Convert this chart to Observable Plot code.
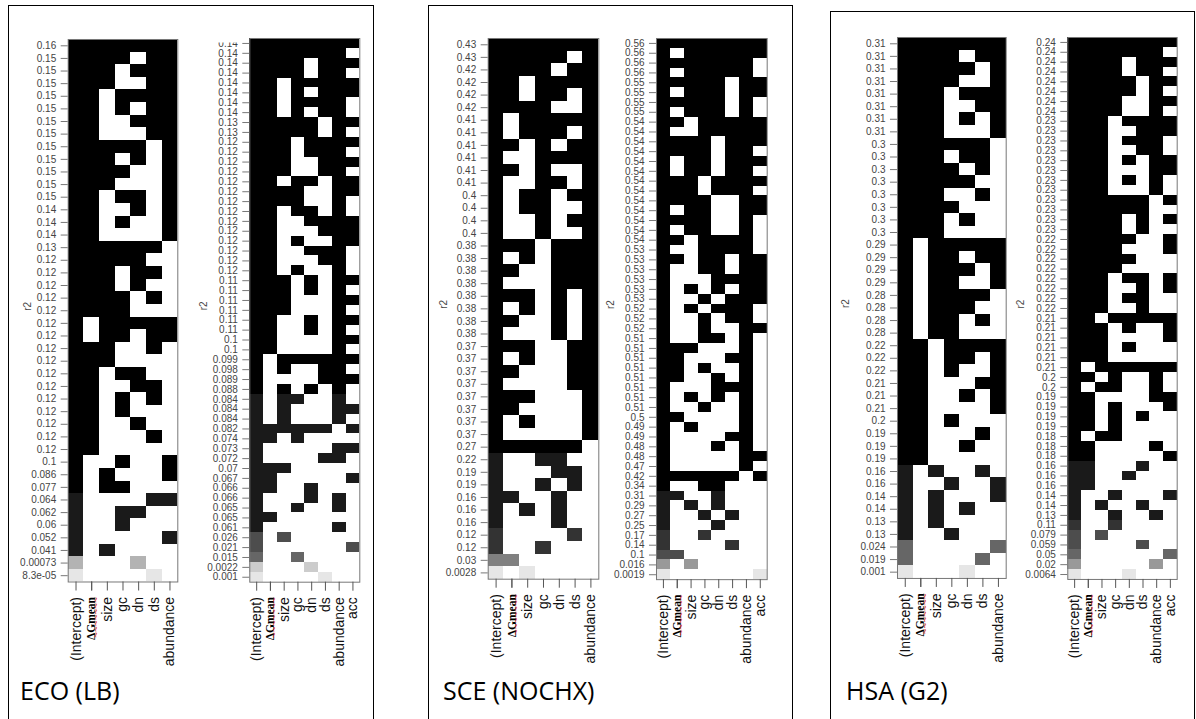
<!DOCTYPE html>
<html><head><meta charset="utf-8">
<script src="https://cdn.jsdelivr.net/npm/d3@7"></script>
<script src="https://cdn.jsdelivr.net/npm/@observablehq/plot@0.6"></script>
<style>
body{margin:0;background:#fff;}
#root{position:relative;width:1196px;height:719px;overflow:hidden;background:#fff;}
.panel{position:absolute;border:1.5px solid #000;border-bottom:none;box-sizing:border-box;}
.title{position:absolute;font-family:"Open Sans",sans-serif;font-size:25px;color:#000;line-height:1;}
.sub{position:absolute;}
</style></head><body><div id="root"></div>
<script>
// ---------- variables (column labels) ----------
const varsLeft = ["(Intercept)","ΔGmean","size","gc","dn","ds","abundance"];
const varsRight = ["(Intercept)","ΔGmean","size","gc","dn","ds","abundance","acc"];

// ---------- ECO (LB), left ----------
const ecoLeftLabels = ["0.16","0.15","0.15","0.15","0.15","0.15","0.15","0.15","0.15","0.15","0.15","0.15","0.15","0.14","0.14","0.14","0.13",
 "0.12","0.12","0.12","0.12","0.12","0.12","0.12","0.12","0.12","0.12","0.12","0.12","0.12","0.12","0.12","0.12",
 "0.1","0.086","0.077","0.064","0.062","0.06","0.052","0.041","0.00073","8.3e-05"];
const ecoLeftRows = ["1111111","1111011","1110111","1110011","1101111","1101011","1100111","1100011","1111101","1110101","1111001","1110001","1101101","1100101","1101001","1100001","1111110",
 "1111100","1110110","1110100","1111010","1111000","1011111","1011011","1110010","1110000","1101100","1100110","1101010","1101000","1100100","1100010","1100000",
 "1001001","1010001","1011000","1000011","1001100","1001000","1000001","1010000","1000100","1000010"];

// ---------- ECO (LB), right ----------
const ecoRightLabels = ["0.14","0.14","0.14","0.14","0.14","0.14","0.14","0.14","0.13","0.13",
 "0.12","0.12","0.12","0.12","0.12","0.12","0.12","0.12","0.12","0.12","0.12","0.12","0.12","0.12",
 "0.11","0.11","0.11","0.11","0.11","0.11","0.1","0.1","0.099","0.098","0.089","0.088","0.084","0.084","0.084","0.082",
 "0.074","0.073","0.072","0.07","0.067","0.066","0.066","0.065","0.065","0.061","0.026","0.021","0.015","0.0022","0.001"];
const ecoRightRows = ["11111111","11111110","11110111","11110110","11011111","11010111","11011110","11010110","11111011","11111010",
 "11101111","11101110","11100111","11100110","11011011","11110011","11110010","11011010","11001111","11000111","11010011","11001110","11000110","11010010",
 "11101011","11101010","11100011","11100010","11001011","11001010","11000011","11000010","10111111","10100110","10000111","10101010","10110010","10100011","10100010","11111101",
 "11010000","10000011","10000110","11100000","11000001","11001000","10001010","10010010","11000000","10000010","10100000","10000001","10010000","10001000","10000100"];

// ---------- SCE (NOCHX), left ----------
const sceLeftLabels = ["0.43","0.43","0.42","0.42","0.42","0.42","0.41","0.41","0.41","0.41","0.41","0.41","0.4","0.4","0.4","0.4",
 "0.38","0.38","0.38","0.38","0.38","0.38","0.38","0.38","0.37","0.37","0.37","0.37","0.37","0.37","0.37","0.37",
 "0.27","0.22","0.19","0.19","0.16","0.16","0.16","0.12","0.12","0.03","0.0028"];
const sceLeftRows = ["1111111","1111101","1111011","1101111","1101101","1111001","1011111","1011101","1101011","1001111","1101001","1001101","1011011","1011001","1001011","1001001",
 "1110111","1010111","1100111","1000111","1110101","1010101","1100101","1000101","1110011","1010011","1100011","1000011","1110001","1100001","1010001","1000001",
 "1111110","1001100","1000110","1001010","1100100","1010100","1000100","1000010","1001000","1100000","1010000"];

// ---------- SCE (NOCHX), right ----------
const sceRightLabels = ["0.56","0.56","0.56","0.56","0.55","0.55","0.55","0.55",
 "0.54","0.54","0.54","0.54","0.54","0.54","0.54","0.54","0.54","0.54","0.54","0.54","0.54",
 "0.53","0.53","0.53","0.53","0.53","0.53","0.52","0.52","0.52",
 "0.51","0.51","0.51","0.51","0.51","0.51","0.51","0.51","0.5","0.49","0.49","0.48","0.48","0.47",
 "0.42","0.34","0.31","0.29","0.27","0.25","0.17","0.14","0.1","0.016","0.0019"];
const sceRightRows = ["11111111","10111111","11111110","10111110","11111011","10111011","11111010","10111010",
 "11011111","10011111","11110111","11110110","10110111","10110110","11101111","11101110","11110011","10110011","11110010","10110010","11011110",
 "10011110","11011011","10011011","10001111","10101011","10010111","10101110","10010110","10010011",
 "10011010","11100010","11000110","11010010","11001010","10001110","10101010","10010010","11000010","10100010","10000110","10001010","10000011","10000010",
 "11111101","10011000","11001000","10101000","10010100","10001000","10010000","10000100","11000000","10100000","10000001"];

// ---------- HSA (G2), left ----------
const hsaLeftLabels = ["0.31","0.31","0.31","0.31","0.31","0.31","0.31","0.31","0.3","0.3","0.3","0.3","0.3","0.3","0.3","0.3",
 "0.29","0.29","0.29","0.29","0.28","0.28","0.28","0.28","0.22","0.22","0.22","0.21","0.21","0.21","0.2",
 "0.19","0.19","0.19","0.16","0.16","0.14","0.14","0.13","0.13","0.024","0.019","0.001"];
const hsaLeftRows = ["1111111","1111011","1111101","1111001","1110111","1110011","1110101","1110001","1111110","1110110","1111010","1111100","1110010","1111000","1110100","1110000",
 "1011111","1011011","1011101","1011001","1011110","1011100","1011010","1011000","1101111","1101101","1101001","1100011","1100101","1100001","1101000",
 "1100010","1100100","1100000","1010010","1001001","1010001","1010100","1010000","1001000","1000001","1000010","1000100"];

// ---------- HSA (G2), right ----------
const hsaRightLabels = ["0.24","0.24","0.24","0.24","0.24","0.24","0.24","0.24",
 "0.23","0.23","0.23","0.23","0.23","0.23","0.23","0.23","0.23","0.23","0.23","0.23",
 "0.22","0.22","0.22","0.22","0.22","0.22","0.22","0.22",
 "0.21","0.21","0.21","0.21","0.21","0.21","0.2","0.2","0.19","0.19","0.19","0.19","0.18","0.18","0.18",
 "0.16","0.16","0.16","0.14","0.14","0.13","0.11","0.079","0.059","0.05","0.02","0.0064"];
const hsaRightRows = ["11111111","11111110","11110111","11110110","11111011","11111010","11110011","11110010",
 "11101111","11100111","11101110","11100110","11101011","11100011","11101010","11100010","11111101","11111100","11110101","11110100",
 "11111001","11110001","11111000","11110000","11101101","11100101","11101100","11100100",
 "11011111","11101001","11100001","11101000","11100000","10111111","11010010","10110010","11000011","11010001","11010100","11010000","10110000","11000010","11000001",
 "11000100","11001000","11000000","10010001","10100100","10010010","10010000","10100000","10000100","10000001","10000010","10001000"];

// ---------- drawing ----------
const root = document.getElementById("root");
function panel(l, t, r) {
  const d = document.createElement("div"); d.className = "panel";
  d.style.left = l + "px"; d.style.top = t + "px"; d.style.width = (r - l) + "px"; d.style.height = (730 - t) + "px";
  root.appendChild(d);
}
function title(txt, x, y) {
  const d = document.createElement("div"); d.className = "title"; d.textContent = txt;
  d.style.left = x + "px"; d.style.top = y + "px"; root.appendChild(d);
}
const grayLevels = d3.range(9, -1, -1).map(k => { const v = Math.round(k * 25.5); return d3.rgb(v, v, v).formatHex(); });
const TS = 9, TP = 6;

function draw(cfg) {
  const {labels, rows, vars, x0, x1, y0, y1, svgLeft, ylabOff, clipAt} = cfg;
  const n = labels.length;
  const vals = labels.map(Number);
  const lmax = Math.log(d3.max(vals)), lmin = Math.log(d3.min(vals));
  const thresholds = d3.range(9, 0, -1).map(j => Math.exp(lmax - j * (lmax - lmin) / 10));
  const cells = [];
  rows.forEach((s, r) => s.split("").forEach((ch, c) => { if (ch === "1") cells.push({row: r, v: vars[c], r2: vals[r]}); }));
  const mt = 1, mb = 110, ml = x0 - svgLeft, mr = 2;
  const W = ml + (x1 - x0) + mr, H = mt + (y1 - y0) + mb;
  const svg = Plot.plot({
    width: W, height: H, marginLeft: ml, marginRight: mr, marginTop: mt, marginBottom: mb,
    x: {domain: vars, padding: 0, round: false, label: null},
    y: {domain: d3.range(n), padding: 0, round: false, label: null},
    color: {type: "threshold", domain: thresholds, range: grayLevels},
    style: {fontFamily: "'Liberation Sans', Arial, sans-serif", fontSize: "10px", color: "#3a3a3a", background: "transparent", overflow: "visible"},
    marks: [
      Plot.cell(cells, {x: "v", y: "row", fill: "r2", inset: 0, shapeRendering: "crispEdges"}),
      Plot.frame({stroke: "#777", strokeWidth: 1}),
      Plot.axisY({tickSize: 7, tickPadding: 5, tickFormat: i => labels[i], stroke: "#777", fill: "#444", label: null, fontSize: 10}),
      Plot.text(["r2"], {frameAnchor: "left", dx: -ylabOff, rotate: -90, fill: "#444", fontSize: 10}),
      Plot.axisX({tickSize: TS, tickPadding: TP, tickRotate: -90, tickFormat: d => d === "ΔGmean" ? "" : d, stroke: "#555", fill: "#111", label: null, fontSize: 14}),
      Plot.axisX({ticks: ["ΔGmean"], tickSize: TS, tickPadding: TP, tickRotate: -90, stroke: "#555", fill: "#000", label: null, fontSize: 11.5, fontWeight: "bold", fontFamily: "'Liberation Serif', serif"}),
      Plot.text(["ΔGmean"], {x: d => d, frameAnchor: "bottom", dy: TS + TP, dx: 8, rotate: -90, textAnchor: "end", text: () => "~~~~~~~", fill: "#e0301e", fontSize: 10})
    ]
  });
  const wrap = document.createElement("div"); wrap.className = "sub";
  wrap.style.left = svgLeft + "px"; wrap.style.top = (y0 - mt) + "px";
  wrap.appendChild(svg); root.appendChild(wrap);
  if (clipAt != null) {
    const s = d3.select(svg);
    const id = "clip" + Math.round(x0);
    s.append("defs").append("clipPath").attr("id", id).append("rect")
      .attr("x", clipAt - svgLeft).attr("y", 0).attr("width", W).attr("height", H);
    s.select('g[aria-label="y-axis tick label"]').attr("clip-path", `url(#${id})`);
  }
}

panel(8, 5, 374); panel(428, 5, 793); panel(830, 11, 1195);
draw({labels: ecoLeftLabels, rows: ecoLeftRows, vars: varsLeft, x0: 67.7, x1: 177.3, y0: 38.5, y1: 581, svgLeft: 12, ylabOff: 40});
draw({labels: ecoRightLabels, rows: ecoRightRows, vars: varsRight, x0: 249.3, x1: 359.3, y0: 38.3, y1: 582, svgLeft: 190, ylabOff: 46, clipAt: 216});
draw({labels: sceLeftLabels, rows: sceLeftRows, vars: varsLeft, x0: 487.7, x1: 598.3, y0: 38.3, y1: 579, svgLeft: 436, ylabOff: 44});
draw({labels: sceRightLabels, rows: sceRightRows, vars: varsRight, x0: 656, x1: 766.7, y0: 38.3, y1: 579.5, svgLeft: 603, ylabOff: 46});
draw({labels: hsaLeftLabels, rows: hsaLeftRows, vars: varsLeft, x0: 897, x1: 1005.7, y0: 36.7, y1: 577.7, svgLeft: 838, ylabOff: 52});
draw({labels: hsaRightLabels, rows: hsaRightRows, vars: varsRight, x0: 1067.3, x1: 1176.7, y0: 36.7, y1: 578.7, svgLeft: 1012, ylabOff: 47});
title("ECO (LB)", 20, 678); title("SCE (NOCHX)", 443, 678); title("HSA (G2)", 846, 678);
</script></body></html>
